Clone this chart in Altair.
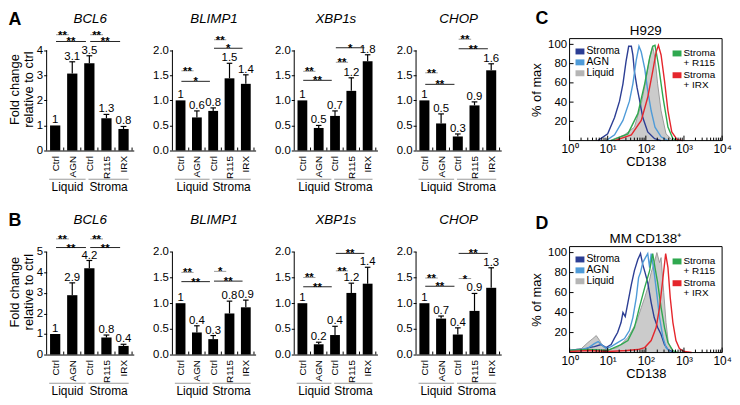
import json
import math
import altair as alt
import pandas as pd

FONT = "Liberation Sans"

# ---------------- bar chart data ----------------
POS = [0, 1, 2, 3, 4]
XLABELS = ["Ctrl", "AGN", "Ctrl", "R115", "IRX"]
GROUP_NAMES = ["Liquid", "Stroma"]
GROUP_START = [-0.35, 1.95]
GROUP_END = [1.78, 4.3]

# Panel A
A_BCL6_H = [1.0, 3.07, 3.48, 1.29, 0.86]
A_BCL6_TOP = [None, 3.54, 3.78, 1.44, 0.96]
A_BCL6_LAB = ["1", "3.1", "3.5", "1.3", "0.8"]
A_BCL6_SIG = [(0, 1, 4.62, "**"), (0, 2, 4.35, "**"), (2, 3, 4.62, "**"), (2, 4, 4.35, "**")]

A_BLIMP1_H = [1.0, 0.66, 0.79, 1.44, 1.33]
A_BLIMP1_TOP = [None, 0.79, 0.85, 1.74, 1.51]
A_BLIMP1_LAB = ["1", "0.6", "0.8", "1.5", "1.4"]
A_BLIMP1_SIG = [(0, 1, 1.59, "**"), (0, 2, 1.38, "*"), (2, 3, 2.21, "**"), (2, 4, 2.04, "*")]

A_XBP1S_H = [1.0, 0.45, 0.69, 1.19, 1.78]
A_XBP1S_TOP = [None, 0.50, 0.79, 1.45, 1.91]
A_XBP1S_LAB = ["1", "0.5", "0.7", "1.2", "1.8"]
A_XBP1S_SIG = [(0, 1, 1.58, "**"), (0, 2, 1.40, "**"), (2, 3, 1.76, "**"), (2, 4, 2.05, "*")]

A_CHOP_H = [1.0, 0.54, 0.28, 0.90, 1.60]
A_CHOP_TOP = [None, 0.73, 0.33, 0.97, 1.73]
A_CHOP_LAB = ["1", "0.5", "0.3", "0.9", "1.6"]
A_CHOP_SIG = [(0, 1, 1.55, "**"), (0, 2, 1.32, "**"), (2, 3, 2.22, "**"), (2, 4, 2.03, "**")]

# Panel B
B_BCL6_H = [1.0, 2.89, 4.2, 0.83, 0.42]
B_BCL6_TOP = [None, 3.49, 4.58, 0.95, 0.50]
B_BCL6_LAB = ["1", "2.9", "4.2", "0.8", "0.4"]
B_BCL6_SIG = [(0, 1, 5.63, "**"), (0, 2, 5.21, "**"), (2, 3, 5.63, "**"), (2, 4, 5.21, "**")]

B_BLIMP1_H = [1.0, 0.43, 0.30, 0.80, 0.92]
B_BLIMP1_TOP = [None, 0.56, 0.37, 1.04, 1.06]
B_BLIMP1_LAB = ["1", "0.4", "0.3", "0.8", "0.9"]
B_BLIMP1_SIG = [(0, 1, 1.60, "**"), (0, 2, 1.42, "**"), (2, 3, 1.62, "*"), (2, 4, 1.43, "**")]

B_XBP1S_H = [1.0, 0.20, 0.38, 1.20, 1.38]
B_XBP1S_TOP = [None, 0.24, 0.55, 1.39, 1.70]
B_XBP1S_LAB = ["1", "0.2", "0.4", "1.2", "1.4"]
B_XBP1S_SIG = [(0, 1, 1.50, "**"), (0, 2, 1.32, "**"), (2, 3, 1.63, "**"), (2, 4, 1.97, "**")]

B_CHOP_H = [1.0, 0.70, 0.39, 0.85, 1.30]
B_CHOP_TOP = [None, 0.75, 0.52, 1.19, 1.69]
B_CHOP_LAB = ["1", "0.7", "0.4", "0.9", "1.3"]
B_CHOP_SIG = [(0, 1, 1.49, "**"), (0, 2, 1.33, "**"), (2, 3, 1.48, "*"), (2, 4, 1.97, "**")]

# ---------------- flow cytometry data (log10 CD138, % of max) ----------------
C_STROMA_X = [0.74, 1.0, 1.18, 1.31, 1.40, 1.48, 1.55, 1.62, 1.66, 1.70, 1.77, 1.83, 1.92, 2.05, 2.23, 2.40]
C_STROMA_Y = [0, 7, 24, 41, 59, 82, 98, 98, 89, 72, 55, 43, 24, 9, 2, 0]
C_AGN_X = [0.96, 1.18, 1.40, 1.57, 1.66, 1.75, 1.82, 1.88, 1.97, 2.05, 2.14, 2.24, 2.40, 2.58]
C_AGN_Y = [0, 6, 21, 41, 59, 84, 98, 92, 75, 52, 31, 14, 4, 0]
C_LIQ_X = [1.05, 1.44, 1.70, 1.88, 2.01, 2.10, 2.18, 2.24, 2.31, 2.40, 2.53, 2.71]
C_LIQ_Y = [0, 6, 14, 38, 65, 86, 98, 86, 59, 31, 7, 0]
C_R115_X = [1.09, 1.53, 1.79, 1.97, 2.10, 2.18, 2.24, 2.33, 2.45, 2.58, 2.71, 2.84]
C_R115_Y = [0, 7, 28, 59, 86, 98, 99, 79, 45, 14, 2, 0]
C_IRX_X = [1.18, 1.62, 1.88, 2.05, 2.18, 2.27, 2.33, 2.40, 2.49, 2.58, 2.68, 2.82, 2.97]
C_IRX_Y = [0, 6, 21, 45, 72, 92, 99, 89, 62, 31, 9, 1, 0]

D_STROMA_X = [0.0, 0.2, 0.39, 0.5, 0.65, 0.83, 0.96, 1.09, 1.17, 1.26, 1.35, 1.40, 1.46, 1.53, 1.62,
              1.70, 1.79, 1.86, 1.92, 1.98, 2.05, 2.14, 2.22, 2.31, 2.40, 2.49, 2.58, 2.75]
D_STROMA_Y = [2, 3, 3, 5, 6, 8, 5, 8, 14, 20, 30, 40, 36, 50, 68, 82, 93, 99, 88, 80, 70, 50, 35, 25, 18, 8, 3, 0]
D_AGN_X = [0.0, 0.3, 0.5, 0.65, 0.75, 0.83, 0.96, 1.09, 1.26, 1.44, 1.57, 1.66, 1.75, 1.81, 1.86, 1.92,
           1.99, 2.05, 2.10, 2.14, 2.22, 2.30, 2.36, 2.45, 2.53, 2.66]
D_AGN_Y = [2, 3, 5, 9, 11, 8, 4, 6, 10, 14, 22, 35, 55, 75, 80, 90, 95, 99, 85, 99, 80, 55, 35, 15, 5, 0]
D_LIQ_X = [0.0, 0.31, 0.48, 0.61, 0.70, 0.79, 0.87, 1.0, 1.26, 1.53, 1.75, 1.88, 1.97, 2.05, 2.14, 2.22,
           2.29, 2.36, 2.40, 2.47, 2.53, 2.59, 2.71]
D_LIQ_Y = [2, 4, 10, 14, 17, 12, 6, 3, 5, 15, 30, 45, 55, 65, 80, 90, 100, 90, 95, 60, 30, 10, 0]
D_R115_X = [0.0, 0.5, 1.0, 1.17, 1.35, 1.53, 1.70, 1.83, 1.97, 2.10, 2.18, 2.24, 2.31, 2.40, 2.49, 2.58, 2.71, 2.84]
D_R115_Y = [2, 3, 2, 5, 8, 12, 25, 45, 65, 82, 99, 85, 70, 45, 25, 10, 2, 0]
D_IRX_X = [0.0, 0.5, 1.0, 1.5, 1.79, 1.97, 2.14, 2.27, 2.36, 2.45, 2.52, 2.58, 2.64, 2.71, 2.79, 2.88, 3.01, 3.2]
D_IRX_Y = [1, 2, 1, 2, 3, 5, 12, 25, 45, 75, 99, 85, 55, 30, 12, 4, 1, 0]

LINE_SERIES = ["Stroma", "AGN", "R115", "IRX"]
LINE_COLORS = ["#2c3e94", "#4f9bd8", "#2fa84f", "#e5262c"]
LIQ_FILL = "#b5b5b5"

FLOW_MAJOR = [0, 1, 2, 3, 4]
FLOW_YTICKS = [20, 40, 60, 80, 100]

ONE = pd.DataFrame({"k": [0]})


def txt(x, y, s, size=12, **kw):
    return alt.Chart(ONE).mark_text(fontSize=size, color="black", **kw).encode(
        x=alt.value(x), y=alt.value(y), text=alt.value(s))


def bar_panel(title, H, TOP, LAB, SIG, ymax, ticks, fmt, width, height, ytitle=None, letter=None):
    top_dom = ymax * 1.225
    xs = alt.Scale(domain=[-0.5, 4.6], nice=False, zero=False)
    ys = alt.Scale(domain=[0, top_dom], nice=False, zero=False)
    xaxis = alt.Axis(values=POS, labelExpr=json.dumps(XLABELS) + "[datum.value]", labelAngle=270,
                     title=None, grid=False, ticks=False, domainColor="black", labelFontSize=10,
                     labelPadding=5, labelColor="black")
    yargs = dict(values=ticks, format=fmt, domain=False, grid=False, tickSize=3, tickColor="black",
                 labelFontSize=11.5, labelColor="black", labelPadding=1)
    if ytitle:
        yaxis = alt.Axis(title=ytitle, titleFontSize=13, titleFontWeight="normal", titleColor="black",
                         titlePadding=1, titleLineHeight=14, **yargs)
    else:
        yaxis = alt.Axis(title=None, **yargs)

    def X(f):
        return alt.X(f, scale=xs, axis=xaxis)

    def Y(f):
        return alt.Y(f, scale=ys, axis=yaxis)

    bars = pd.DataFrame({"pos": POS, "h": H, "top": TOP, "lab": LAB})
    bars["x0"] = bars["pos"] - 0.3
    bars["x1"] = bars["pos"] + 0.3
    bars["z"] = 0.0
    bars["ty"] = bars["top"].fillna(bars["h"])
    bars["tk"] = bars["pos"] + 0.5
    err = bars.dropna(subset=["top"]).copy()
    err["c0"] = err["pos"] - 0.17
    err["c1"] = err["pos"] + 0.17

    layers = []
    layers.append(alt.Chart(bars).mark_rect(color="black").encode(x=X("x0:Q"), x2="x1:Q", y=Y("h:Q"), y2="z:Q"))
    layers.append(alt.Chart(err).mark_rule(color="black", strokeWidth=1.2).encode(x=X("pos:Q"), y=Y("h:Q"), y2="top:Q"))
    layers.append(alt.Chart(err).mark_rule(color="black", strokeWidth=1.2).encode(x=X("c0:Q"), x2="c1:Q", y=Y("top:Q")))
    layers.append(alt.Chart(bars).mark_text(baseline="bottom", dy=0, fontSize=11.5, color="black").encode(
        x=X("pos:Q"), y=Y("ty:Q"), text="lab:N"))
    # inward ticks between bars on the x axis
    layers.append(alt.Chart(bars).mark_rule(color="black", strokeWidth=1).encode(
        x=X("tk:Q"), y=alt.value(height), y2=alt.value(height - 3)))
    yl = pd.DataFrame({"a": [0.0], "b": [float(ymax)]})
    layers.append(alt.Chart(yl).mark_rule(color="black", strokeWidth=1).encode(x=alt.value(0), y=Y("a:Q"), y2="b:Q"))

    sig = pd.DataFrame(SIG, columns=["i", "j", "lvl", "s"])
    sig["sx1"] = sig["i"] + 0.05
    sig["sx2"] = sig["j"] - 0.2
    sig["xm"] = (sig["sx1"] + sig["sx2"]) / 2
    sig["col"] = ["#9a9a9a" if (j - i) == 1 else "#222222" for i, j in zip(sig["i"], sig["j"])]
    layers.append(alt.Chart(sig).mark_rule(strokeWidth=1).encode(
        x=X("sx1:Q"), x2="sx2:Q", y=Y("lvl:Q"), color=alt.Color("col:N", scale=None)))
    layers.append(alt.Chart(sig).mark_text(baseline="alphabetic", dy=4, fontSize=11.5, fontWeight="bold",
                                           color="black").encode(x=X("xm:Q"), y=Y("lvl:Q"), text="s:N"))

    grp = pd.DataFrame({"name": GROUP_NAMES, "g0": GROUP_START, "g1": GROUP_END})
    grp["gm"] = (grp["g0"] + grp["g1"]) / 2
    layers.append(alt.Chart(grp).mark_rule(color="#9a9a9a", strokeWidth=1).encode(
        x=X("g0:Q"), x2="g1:Q", y=alt.value(height + 29)))
    layers.append(alt.Chart(grp).mark_text(fontSize=12, baseline="middle", color="black").encode(
        x=X("gm:Q"), y=alt.value(height + 37), text="name:N"))

    layers.append(txt(width / 2, -9, title, 13.5, fontStyle="italic", baseline="middle", align="center"))
    if letter:
        layers.append(txt(-32, -8, letter, 18, fontWeight="bold", baseline="middle", align="center"))

    return alt.layer(*layers).properties(width=width, height=height)


def flow_panel(title, lines, liq, letter, width, height, box_top, title_y, letter_y):
    ymax = 106 * height / (height - box_top)
    xs = alt.Scale(domain=[0, 4], nice=False, zero=False)
    ys = alt.Scale(domain=[0, ymax], nice=False, zero=False)
    xaxis = alt.Axis(values=FLOW_MAJOR,
                     labelExpr="'10' + ['\u2070','\u00b9','\u00b2','\u00b3','\u2074'][datum.value]",
                     title="CD138", titleFontSize=13, titleFontWeight="normal", titleColor="black",
                     titlePadding=1, grid=False, ticks=False, domain=False,
                     labelFontSize=12, labelColor="black", labelPadding=3, labelFlush=False)
    yaxis = alt.Axis(values=FLOW_YTICKS, title="% of max", titleFontSize=13, titleFontWeight="normal",
                     titleColor="black", titlePadding=4, titleY=(box_top + height) / 2, grid=False,
                     ticks=False, domain=False, labelFontSize=11.5, labelColor="black", labelPadding=3)

    def X(f):
        return alt.X(f, scale=xs, axis=xaxis)

    def Y(f):
        return alt.Y(f, scale=ys, axis=yaxis)

    rows = []
    for name, (xv, yv) in zip(LINE_SERIES, lines):
        for a, b in zip(xv, yv):
            rows.append({"s": name, "lx": a, "p": b})
    ldf = pd.DataFrame(rows)
    adf = pd.DataFrame({"lx": liq[0], "p": liq[1]})

    minor = [d + math.log10(k) for d in FLOW_MAJOR[:-1] for k in range(2, 10)]
    majdf = pd.DataFrame({"lx": FLOW_MAJOR})
    mindf = pd.DataFrame({"lx": minor})
    ytk = pd.DataFrame({"p": FLOW_YTICKS})

    layers = []
    layers.append(alt.Chart(adf).mark_area(color=LIQ_FILL, line={"color": "#8a8a8a", "strokeWidth": 0.8}).encode(
        x=X("lx:Q"), y=Y("p:Q")))
    layers.append(alt.Chart(ldf).mark_line(strokeWidth=1.4).encode(
        x=X("lx:Q"), y=Y("p:Q"),
        color=alt.Color("s:N", scale=alt.Scale(domain=LINE_SERIES, range=LINE_COLORS), legend=None)))
    # frame
    layers.append(alt.Chart(ONE).mark_rect(fill=None, stroke="black", strokeWidth=1).encode(
        x=alt.value(0), x2=alt.value(width), y=alt.value(box_top), y2=alt.value(height)))
    # inward ticks
    layers.append(alt.Chart(majdf).mark_rule(color="black", strokeWidth=1).encode(
        x=X("lx:Q"), y=alt.value(height), y2=alt.value(height - 5)))
    layers.append(alt.Chart(mindf).mark_rule(color="black", strokeWidth=1).encode(
        x=X("lx:Q"), y=alt.value(height), y2=alt.value(height - 3)))
    layers.append(alt.Chart(ytk).mark_rule(color="black", strokeWidth=1).encode(
        x=alt.value(0), x2=alt.value(4), y=Y("p:Q")))
    # legend (left column)
    leg_left = [("Stroma", LINE_COLORS[0], 13), ("AGN", LINE_COLORS[1], 24), ("Liquid", LIQ_FILL, 35)]
    for t, col, yy in leg_left:
        yy = yy + box_top
        layers.append(alt.Chart(ONE).mark_rect(color=col).encode(
            x=alt.value(6), x2=alt.value(15), y=alt.value(yy - 3), y2=alt.value(yy + 3)))
        layers.append(txt(17, yy, t, 10.5, align="left", baseline="middle"))
    leg_right = [("Stroma", "+ R115", LINE_COLORS[2], 15), ("Stroma", "+ IRX", LINE_COLORS[3], 37)]
    for t1, t2, col, yy in leg_right:
        yy = yy + box_top
        layers.append(alt.Chart(ONE).mark_rect(color=col).encode(
            x=alt.value(104), x2=alt.value(113), y=alt.value(yy - 3), y2=alt.value(yy + 3)))
        layers.append(txt(115, yy, t1, 10, align="left", baseline="middle"))
        layers.append(txt(115, yy + 10, t2, 10, align="left", baseline="middle"))
    layers.append(txt(width / 2, title_y, title, 13.5, baseline="middle", align="center"))
    layers.append(txt(-28, letter_y, letter, 18, fontWeight="bold", baseline="middle", align="center"))
    return alt.layer(*layers).properties(width=width, height=height)


YT = ["Fold change", "relative to ctrl"]
T2 = [0.0, 0.5, 1.0, 1.5, 2.0]
HA = 124
HB = 127

barsA = alt.hconcat(
    bar_panel("BCL6", A_BCL6_H, A_BCL6_TOP, A_BCL6_LAB, A_BCL6_SIG, 4, [0, 1, 2, 3, 4], "d", 88, HA, YT, "A"),
    bar_panel("BLIMP1", A_BLIMP1_H, A_BLIMP1_TOP, A_BLIMP1_LAB, A_BLIMP1_SIG, 2, T2, ".1f", 84, HA),
    bar_panel("XBP1s", A_XBP1S_H, A_XBP1S_TOP, A_XBP1S_LAB, A_XBP1S_SIG, 2, T2, ".1f", 84, HA),
    bar_panel("CHOP", A_CHOP_H, A_CHOP_TOP, A_CHOP_LAB, A_CHOP_SIG, 2, T2, ".1f", 86, HA),
    spacing=19)
rowA = alt.hconcat(
    barsA,
    flow_panel("H929", [(C_STROMA_X, C_STROMA_Y), (C_AGN_X, C_AGN_Y), (C_R115_X, C_R115_Y), (C_IRX_X, C_IRX_Y)],
               (C_LIQ_X, C_LIQ_Y), "C", 154, 114, 11, 3, -9),
    spacing=29)

barsB = alt.hconcat(
    bar_panel("BCL6", B_BCL6_H, B_BCL6_TOP, B_BCL6_LAB, B_BCL6_SIG, 5, [0, 1, 2, 3, 4, 5], "d", 88, HB, YT, "B"),
    bar_panel("BLIMP1", B_BLIMP1_H, B_BLIMP1_TOP, B_BLIMP1_LAB, B_BLIMP1_SIG, 2, T2, ".1f", 84, HB),
    bar_panel("XBP1s", B_XBP1S_H, B_XBP1S_TOP, B_XBP1S_LAB, B_XBP1S_SIG, 2, T2, ".1f", 84, HB),
    bar_panel("CHOP", B_CHOP_H, B_CHOP_TOP, B_CHOP_LAB, B_CHOP_SIG, 2, T2, ".1f", 86, HB),
    spacing=19)
rowB = alt.hconcat(
    barsB,
    flow_panel("MM CD138\u207a", [(D_STROMA_X, D_STROMA_Y), (D_AGN_X, D_AGN_Y), (D_R115_X, D_R115_Y),
                                  (D_IRX_X, D_IRX_Y)], (D_LIQ_X, D_LIQ_Y), "D", 154, 125, 18, 10, -5),
    spacing=29)

chart = alt.vconcat(rowA, rowB, spacing=19).configure(font=FONT, padding=0).configure_view(stroke=None)

chart.save("out.html", embed_options={"renderer": "svg", "actions": False})
